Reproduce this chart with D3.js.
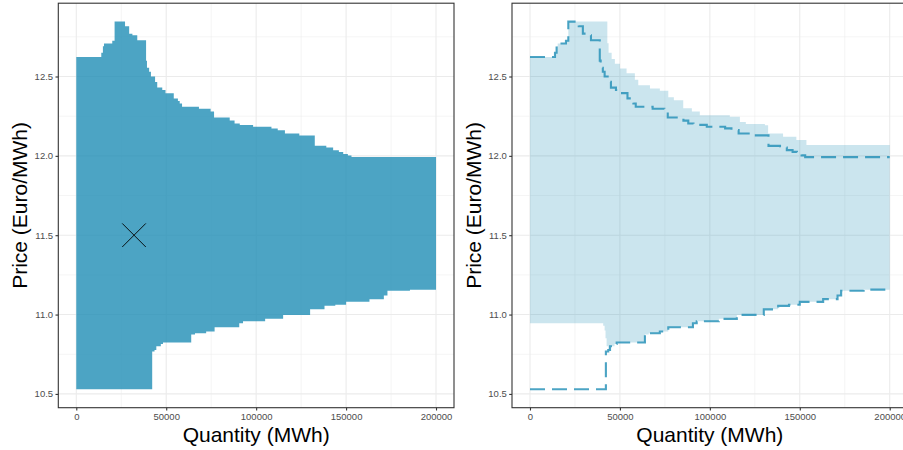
<!DOCTYPE html>
<html>
<head>
<meta charset="utf-8">
<script src="https://cdn.jsdelivr.net/npm/d3@7"></script>
<style>
  body { margin: 0; background: #fff; }
  svg { display: block; font-family: "Liberation Sans", Arial, sans-serif; }
</style>
</head>
<body>
<script>
// step curves: price holds from each quantity until the next one
const upperQ = [0, 13900, 14800, 15400, 20000, 21300, 27100, 29400, 31200, 33900, 38800, 39300, 40500, 41500,
  43800, 45000, 47800, 49600, 54200, 56500, 57500, 58800, 68200, 74700, 76600, 85300, 88000, 90900, 98300,
  108500, 112000, 116000, 124000, 132600, 139000, 142800, 146000, 148400, 151000, 153000, 200000]
const upperP = [12.623, 12.65, 12.69, 12.708, 12.725, 12.846, 12.817, 12.77, 12.76, 12.728, 12.6, 12.555, 12.53, 12.5,
  12.466, 12.43, 12.415, 12.395, 12.362, 12.345, 12.33, 12.309, 12.297, 12.28, 12.242, 12.222, 12.204, 12.195, 12.183,
  12.173, 12.162, 12.141, 12.129, 12.063, 12.052, 12.036, 12.025, 12.011, 12.003, 11.992, 11.992]

const lowerQ = [0, 42200, 43500, 44500, 47000, 48200, 63900, 66000, 72200, 76900, 90600, 92700, 105000,
  115000, 130000, 138000, 144000, 150000, 163000, 171000, 173000, 185500, 200000]
const lowerP = [10.529, 10.767, 10.777, 10.8, 10.815, 10.824, 10.875, 10.882, 10.893, 10.92, 10.945, 10.958, 10.973,
  10.998, 11.033, 11.055, 11.062, 11.08, 11.097, 11.12, 11.15, 11.157, 11.16]

// wider band on the right panel
const bandHiQ = [0, 13900, 14800, 15400, 20000, 21300, 43000, 43700, 45400, 47200, 50000, 53700, 58300, 60200,
  66700, 72200, 76900, 80000, 85200, 90000, 94400, 111100, 116700, 120000, 130600, 132400, 140700, 148100, 153700, 200000]
const bandHiP = [12.623, 12.65, 12.69, 12.708, 12.725, 12.846, 12.71, 12.65, 12.61, 12.58, 12.55, 12.52, 12.48, 12.445,
  12.424, 12.41, 12.37, 12.35, 12.3, 12.28, 12.256, 12.246, 12.214, 12.2, 12.193, 12.141, 12.12, 12.1, 12.068, 12.068]

const bandLoQ = [0, 40700, 41500, 42000, 42600, 43500, 44500, 47000, 48200, 63900, 66000, 72200, 76900, 90600, 92700,
  105000, 115000, 130000, 138000, 144000, 150000, 163000, 171000, 173000, 185500, 200000]
const bandLoP = [10.946, 10.93, 10.9, 10.85, 10.8, 10.777, 10.8, 10.815, 10.824, 10.875, 10.882, 10.893, 10.92, 10.945,
  10.958, 10.973, 10.998, 11.033, 11.055, 11.062, 11.08, 11.097, 11.12, 11.15, 11.157, 11.16]

const markQ = [32100]
const markP = [11.5]

const xTicks = [0, 50000, 100000, 150000, 200000]
const xMinor = [25000, 75000, 125000, 175000]
const yTicks = [10.5, 11.0, 11.5, 12.0, 12.5]
const yMinor = [10.75, 11.25, 11.75, 12.25, 12.75]

const container = { width: 903, height: 450 }
const panelW = 395.7, panelTop = 3.2, panelBottom = 407.7
const blue = '#1f8db5'

const stepAt = (qs, ps, q) => ps[Math.max(0, d3.bisectRight(qs, q) - 1)]

const bandRows = (hiQ, hiP, loQ, loP) => {
  let qs = Array.from(new Set(hiQ.concat(loQ))).sort((a, b) => a - b)
  return qs.map(q => ({ q: q, hi: stepAt(hiQ, hiP, q), lo: stepAt(loQ, loP, q) }))
}
const points = (qs, ps) => qs.map((q, i) => ({ q: q, p: ps[i] }))

const svg = d3.select('body').append('svg')
  .attr('width', container.width)
  .attr('height', container.height)

svg.append('rect')
  .attr('width', container.width)
  .attr('height', container.height)
  .attr('fill', '#fff')

const allP = upperP.concat(lowerP, bandHiP, bandLoP)
const pExt = d3.extent(allP)
const pPad = (pExt[1] - pExt[0]) * 0.05

const drawPanel = (left, drawData) => {
  const x = d3.scaleLinear().domain([-10000, 210000]).range([left, left + panelW])
  const y = d3.scaleLinear().domain([pExt[0] - pPad, pExt[1] + pPad]).range([panelBottom, panelTop])
  const g = svg.append('g')

  // grid
  g.selectAll('.vminor').data(xMinor).enter().append('line')
    .attr('x1', d => x(d)).attr('x2', d => x(d))
    .attr('y1', panelTop).attr('y2', panelBottom)
    .attr('stroke', '#ebebeb').attr('stroke-width', 0.55)
  g.selectAll('.hminor').data(yMinor).enter().append('line')
    .attr('x1', left).attr('x2', left + panelW)
    .attr('y1', d => y(d)).attr('y2', d => y(d))
    .attr('stroke', '#ebebeb').attr('stroke-width', 0.55)
  g.selectAll('.vmajor').data(xTicks).enter().append('line')
    .attr('x1', d => x(d)).attr('x2', d => x(d))
    .attr('y1', panelTop).attr('y2', panelBottom)
    .attr('stroke', '#ebebeb').attr('stroke-width', 1.1)
  g.selectAll('.hmajor').data(yTicks).enter().append('line')
    .attr('x1', left).attr('x2', left + panelW)
    .attr('y1', d => y(d)).attr('y2', d => y(d))
    .attr('stroke', '#ebebeb').attr('stroke-width', 1.1)

  drawData(g, x, y)

  g.append('rect')
    .attr('x', left).attr('y', panelTop)
    .attr('width', panelW).attr('height', panelBottom - panelTop)
    .attr('fill', 'none').attr('stroke', '#333').attr('stroke-width', 1.1)

  // axes
  let xAxis = d3.axisBottom(x).tickValues(xTicks).tickSize(2.8).tickPadding(3).tickFormat(d3.format('d'))
  let yAxis = d3.axisLeft(y).tickValues(yTicks).tickSize(2.8).tickPadding(2.4).tickFormat(d3.format('.1f'))
  let ax = g.append('g').attr('transform', `translate(0,${panelBottom})`).call(xAxis)
  let ay = g.append('g').attr('transform', `translate(${left},0)`).call(yAxis)
  ;[ax, ay].forEach(a => {
    a.select('.domain').remove()
    a.selectAll('line').attr('stroke', '#333').attr('stroke-width', 1.1)
    a.selectAll('text').attr('fill', '#4d4d4d').style('font-size', '9.5px')
      .style('font-family', '"Liberation Sans", Arial, sans-serif')
  })

  g.append('text')
    .attr('x', left + panelW / 2)
    .attr('y', 441.5)
    .attr('text-anchor', 'middle')
    .style('font-size', '21px')
    .text('Quantity (MWh)')
  g.append('text')
    .attr('transform', `translate(${left - 31},${(panelTop + panelBottom) / 2}) rotate(-90)`)
    .attr('text-anchor', 'middle')
    .style('font-size', '21px')
    .text('Price (Euro/MWh)')
}

// left: ribbon between the two curves
drawPanel(58.3, (g, x, y) => {
  let area = d3.area()
    .x(d => x(d.q)).y0(d => y(d.lo)).y1(d => y(d.hi))
    .curve(d3.curveStepAfter)
  g.append('path')
    .datum(bandRows(upperQ, upperP, lowerQ, lowerP))
    .attr('d', area)
    .attr('fill', blue)
    .attr('fill-opacity', 0.8)

  g.selectAll('.mark').data(markQ).enter().append('path')
    .attr('transform', (d, i) => `translate(${x(d)},${y(markP[i])})`)
    .attr('d', 'M-11.8,-11.8L11.8,11.8M-11.8,11.8L11.8,-11.8')
    .attr('stroke', '#000')
    .attr('stroke-width', 0.9)
    .attr('fill', 'none')
})

// right: light band plus dashed curves
drawPanel(512, (g, x, y) => {
  let area = d3.area()
    .x(d => x(d.q)).y0(d => y(d.lo)).y1(d => y(d.hi))
    .curve(d3.curveStepAfter)
  g.append('path')
    .datum(bandRows(bandHiQ, bandHiP, bandLoQ, bandLoP))
    .attr('d', area)
    .attr('fill', blue)
    .attr('fill-opacity', 0.23)

  let line = d3.line().x(d => x(d.q)).y(d => y(d.p)).curve(d3.curveStepAfter)
  ;[points(upperQ, upperP), points(lowerQ, lowerP)].forEach(pts => {
    g.append('path')
      .datum(pts)
      .attr('d', line)
      .attr('fill', 'none')
      .attr('stroke', blue)
      .attr('stroke-opacity', 0.8)
      .attr('stroke-width', 2.1)
      .attr('stroke-dasharray', '15,7')
  })
})
</script>
</body>
</html>
